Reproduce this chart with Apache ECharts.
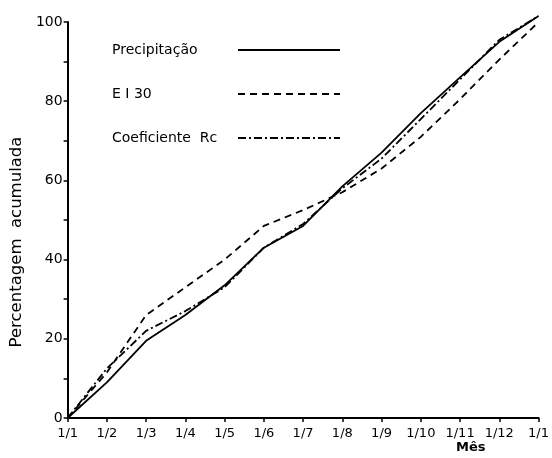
<!DOCTYPE html>
<html><head><meta charset="utf-8">
<script src="https://cdn.jsdelivr.net/npm/echarts@6/dist/echarts.min.js"></script>
<style>html,body{margin:0;padding:0;background:#fff}#c{width:552px;height:458px}</style>
</head><body><div id="c"></div>
<script>
var months = ['1/1','1/2','1/3','1/4','1/5','1/6','1/7','1/8','1/9','1/10','1/11','1/12','1/1'];
var precipitacao = [0, 9, 19.5, 26, 33.5, 43, 48.5, 58.5, 67, 77, 86, 95, 101.5];
var ei30 = [0, 11.5, 26, 33, 40, 48.5, 52.5, 57, 63, 71, 80.5, 90.5, 100];
var coefRc = [0, 12.5, 22, 27, 33, 43, 49, 58, 65.5, 75.5, 85.5, 95.5, 101.5];
var seriesNames = ['Precipitação', 'E I 30', 'Coeficiente  Rc'];
var yTicks = [0, 20, 40, 60, 80, 100];

function pts(arr){ return arr.map(function(v,i){ return [i, v]; }); }
var FONT = 'DejaVu Sans';
var chart = echarts.init(document.getElementById('c'));
chart.setOption({
  animation: false,
  backgroundColor: '#fff',
  grid: { left: 65, right: 9, top: 22, bottom: 40 },
  legend: {
    orient: 'vertical', left: 107, top: 38, align: 'right',
    itemWidth: 102, itemHeight: 14, itemGap: 30,
    itemStyle: { opacity: 0 },
    formatter: function(n){ return '{a|' + n + '}'; },
    textStyle: { fontFamily: FONT, fontSize: 14, color: '#000',
      rich: { a: { width: 121, align: 'left', fontFamily: FONT, fontSize: 14, color: '#000' } } },
    data: seriesNames
  },
  xAxis: {
    type: 'value', min: 0, max: 12, interval: 1,
    axisLine: { lineStyle: { color: '#000', width: 2 } },
    axisTick: { show: true, length: 4, inside: false, lineStyle: { color: '#000', width: 1.5 } },
    axisLabel: { fontFamily: FONT, fontSize: 13, color: '#000', margin: 9,
      formatter: function(v){ return months[Math.round(v)]; } },
    splitLine: { show: false }
  },
  yAxis: {
    type: 'value', min: 0, max: 100, interval: 10,
    name: 'Percentagem  acumulada', nameLocation: 'middle', nameGap: 28, nameRotate: 90,
    nameTextStyle: { fontFamily: FONT, fontSize: 16.5, color: '#000', padding: [0, 44, 0, 0] },
    axisLine: { show: true, lineStyle: { color: '#000', width: 2 } },
    axisTick: { show: true, length: 4, lineStyle: { color: '#000', width: 1.5 } },
    axisLabel: { fontFamily: FONT, fontSize: 14, color: '#000', margin: 5,
      formatter: function(v){ return yTicks.indexOf(v) >= 0 ? String(v) : ''; } },
    splitLine: { show: false }
  },
  graphic: [{ type: 'text', left: 456, top: 441,
    style: { text: 'Mês', fontFamily: FONT, fontSize: 13, fontWeight: 'bold', fill: '#000' } }],
  series: [
    { name: seriesNames[0], type: 'line', data: pts(precipitacao), symbol: 'none', clip: false,
      lineStyle: { color: '#000', width: 1.8, type: 'solid' }, itemStyle: { color: '#000' } },
    { name: seriesNames[1], type: 'line', data: pts(ei30), symbol: 'none', clip: false,
      lineStyle: { color: '#000', width: 1.8, type: [7, 5] }, itemStyle: { color: '#000' } },
    { name: seriesNames[2], type: 'line', data: pts(coefRc), symbol: 'none', clip: false,
      lineStyle: { color: '#000', width: 1.8, type: [8, 3, 2, 3] }, itemStyle: { color: '#000' } }
  ]
});
</script></body></html>
